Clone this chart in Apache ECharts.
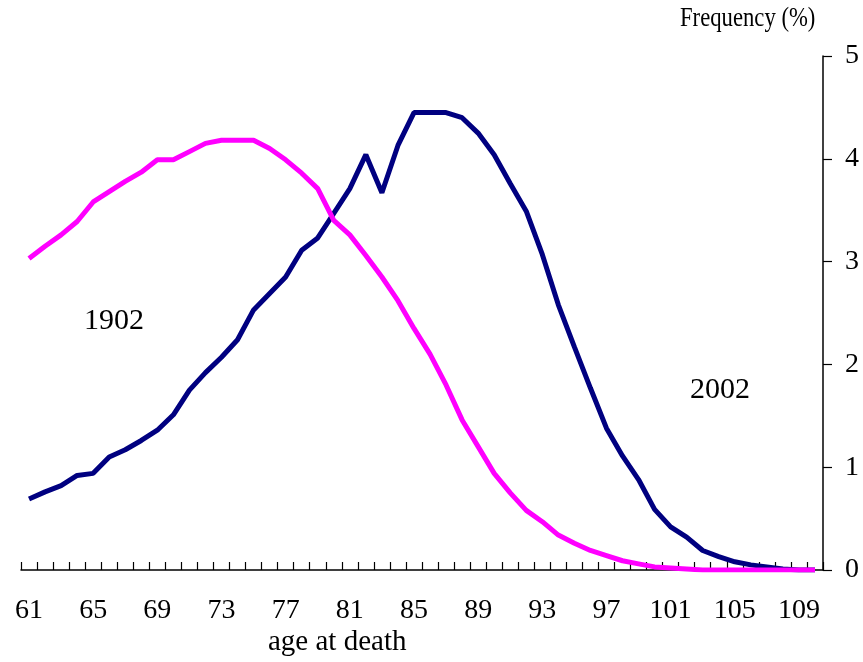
<!DOCTYPE html>
<html>
<head>
<meta charset="utf-8">
<script src="https://cdn.jsdelivr.net/npm/echarts@6/dist/echarts.min.js"></script>
<style>html,body{margin:0;padding:0;background:#fff}#c{width:863px;height:662px}</style>
</head>
<body>
<div id="c"></div>
<script>
const ages = [];
for (let a = 61; a <= 110; a++) ages.push(String(a));
const freq1902 = [3.03,3.15,3.26,3.39,3.58,3.68,3.78,3.87,3.99,3.99,
  4.07,4.15,4.18,4.18,4.18,4.10,3.99,3.86,3.71,3.40,
  3.26,3.06,2.85,2.62,2.35,2.10,1.80,1.46,1.20,0.94,
  0.75,0.58,0.47,0.34,0.26,0.19,0.14,0.09,0.06,0.03,
  0.02,0.01,0,0,0,0,0,0,0,0];
const freq2002 = [0.69,0.76,0.82,0.92,0.94,1.10,1.17,1.26,1.36,1.51,
  1.75,1.92,2.07,2.24,2.53,2.69,2.85,3.11,3.23,3.47,
  3.71,4.04,3.67,4.13,4.45,4.45,4.45,4.40,4.25,4.04,
  3.76,3.49,3.07,2.58,2.17,1.77,1.38,1.11,0.88,0.59,
  0.42,0.32,0.19,0.13,0.08,0.05,0.03,0.01,0,0];
const yTicks = [0,1,2,3,4,5];

const font = '"Liberation Serif", "Times New Roman", serif';
const chart = echarts.init(document.getElementById('c'), null, {renderer:'canvas'});
chart.setOption({
  animation: false,
  backgroundColor: '#fff',
  grid: {left: 21, right: 40, top: 56, bottom: 92, containLabel: false},
  xAxis: {
    type: 'category', data: ages, boundaryGap: true,
    axisLine: {show: true, lineStyle: {color: '#000', width: 1.5}},
    axisTick: {show: true, inside: true, length: 8, interval: 0, lineStyle: {color: '#000', width: 1.2}},
    axisLabel: {show: true, interval: 3, color: '#000', fontFamily: font, fontSize: 28, margin: 27},
    splitLine: {show: false}
  },
  yAxis: {
    type: 'value', position: 'right', min: 0, max: 5, interval: 1,
    axisLine: {show: true, lineStyle: {color: '#000', width: 1.5}},
    axisTick: {show: true, inside: false, length: 9, lineStyle: {color: '#000', width: 1.2}},
    axisLabel: {color: '#000', fontFamily: font, fontSize: 28, margin: 22,
      formatter: v => yTicks.includes(v) ? String(v) : ''},
    splitLine: {show: false}
  },
  series: [
    {name: '2002', type: 'line', data: freq2002, symbol: 'none',
     lineStyle: {color: '#000080', width: 5}, z: 2},
    {name: '1902', type: 'line', data: freq1902, symbol: 'none',
     lineStyle: {color: '#FF00FF', width: 5}, z: 3}
  ],
  graphic: [
    {type: 'text', x: 680, y: 5, scaleX: 0.84, style: {text: 'Frequency (%)', font: '27px ' + font, fill: '#000'}},
    {type: 'text', x: 84, y: 306, style: {text: '1902', font: '30px ' + font, fill: '#000'}},
    {type: 'text', x: 690, y: 375, style: {text: '2002', font: '30px ' + font, fill: '#000'}},
    {type: 'text', x: 268, y: 628, style: {text: 'age at death', font: '29px ' + font, fill: '#000'}}
  ]
});
</script>
</body>
</html>
